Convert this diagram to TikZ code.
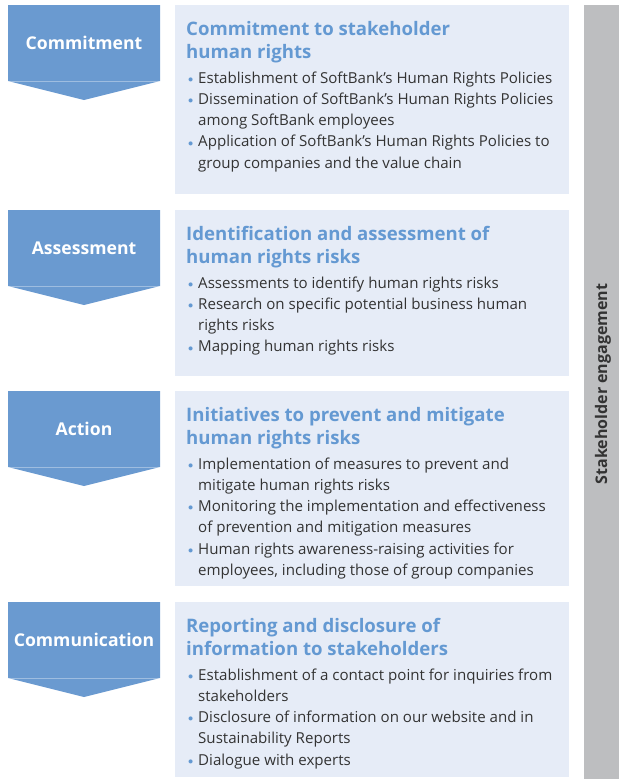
\documentclass[tikz,border=0pt]{standalone}
\usepackage{fontspec}
\setmainfont{Open Sans}
\definecolor{stepblue}{HTML}{6A9AD0}
\definecolor{headblue}{HTML}{6499D2}
\definecolor{boxfill}{HTML}{E6ECF7}
\definecolor{bargray}{HTML}{BDBEC0}
\definecolor{inktext}{HTML}{333333}
\newcommand\bul{\makebox[10pt][l]{\textcolor{headblue}{\raisebox{0.8pt}{\scalebox{0.72}{$\bullet$}}}}}
\newcommand\cont{\hspace*{10pt}}
\begin{document}
\begin{tikzpicture}[
  x=1pt, y=-1pt,
  steplabel/.style={text=white, font=\fontsize{17.6}{20}\selectfont\bfseries},
  infobox/.style={fill=boxfill, anchor=north west, minimum width=394pt, inner sep=0},
  headtext/.style={anchor=base west, inner sep=0, align=left, text=headblue, font=\fontsize{18.6}{23}\selectfont\bfseries},
  listtext/.style={anchor=base west, inner sep=0, align=left, text=inktext, font=\fontsize{15.1}{21.3}\selectfont}
]
  \useasboundingbox (0,0) rectangle (619,779);
  % engagement bar
  \fill[bargray] (584,5) rectangle (619,779);
  \node[rotate=90, text=inktext, font=\fontsize{16}{18}\selectfont\bfseries] (eng) at (603,384) {Stakeholder engagement};
  % steps
  \foreach \t/\lbl [count=\i] in {5/Commitment, 210/Assessment, 391/Action, 602/Communication} {
    \fill[stepblue] (8,\t) -- ++(152,0) -- ++(0,76) -- ++(-76,19) -- ++(-76,-19) -- cycle;
    \draw[white, opacity=0.35, line width=0.6pt] (8,\t+76) -- ++(152,0);
    \node[steplabel] (s\i) at (84,\t+38) {\lbl};
  }
  % boxes
  \node[infobox, minimum height=189pt] (b1) at (175,5) {};
  \node[infobox, minimum height=166pt] (b2) at (175,210) {};
  \node[infobox, minimum height=195pt] (b3) at (175,391) {};
  \node[infobox, minimum height=175pt] (b4) at (175,602) {};
  % box texts (base = last line)
  \node[headtext] (h1) at ([xshift=11pt, yshift=-53pt]b1.north west) {Commitment to stakeholder\\human rights};
  \node[listtext] (l1) at ([xshift=13pt, yshift=-163.2pt]b1.north west)
    {\bul Establishment of SoftBank’s Human Rights Policies\\
     \bul Dissemination of SoftBank’s Human Rights Policies\\
     \cont among SoftBank employees\\
     \bul Application of SoftBank’s Human Rights Policies to\\
     \cont group companies and the value chain};
  \node[headtext] (h2) at ([xshift=11pt, yshift=-53pt]b2.north west) {Identification and assessment of\\human rights risks};
  \node[listtext] (l2) at ([xshift=13pt, yshift=-141.9pt]b2.north west)
    {\bul Assessments to identify human rights risks\\
     \bul Research on specific potential business human\\
     \cont rights risks\\
     \bul Mapping human rights risks};
  \node[headtext] (h3) at ([xshift=11pt, yshift=-53pt]b3.north west) {Initiatives to prevent and mitigate\\human rights risks};
  \node[listtext] (l3) at ([xshift=13pt, yshift=-184.5pt]b3.north west)
    {\bul Implementation of measures to prevent and\\
     \cont mitigate human rights risks\\
     \bul Monitoring the implementation and effectiveness\\
     \cont of prevention and mitigation measures\\
     \bul Human rights awareness-raising activities for\\
     \cont employees, including those of group companies};
  \node[headtext] (h4) at ([xshift=11pt, yshift=-53pt]b4.north west) {Reporting and disclosure of\\information to stakeholders};
  \node[listtext] (l4) at ([xshift=13pt, yshift=-163.2pt]b4.north west)
    {\bul Establishment of a contact point for inquiries from\\
     \cont stakeholders\\
     \bul Disclosure of information on our website and in\\
     \cont Sustainability Reports\\
     \bul Dialogue with experts};
\end{tikzpicture}
\end{document}
